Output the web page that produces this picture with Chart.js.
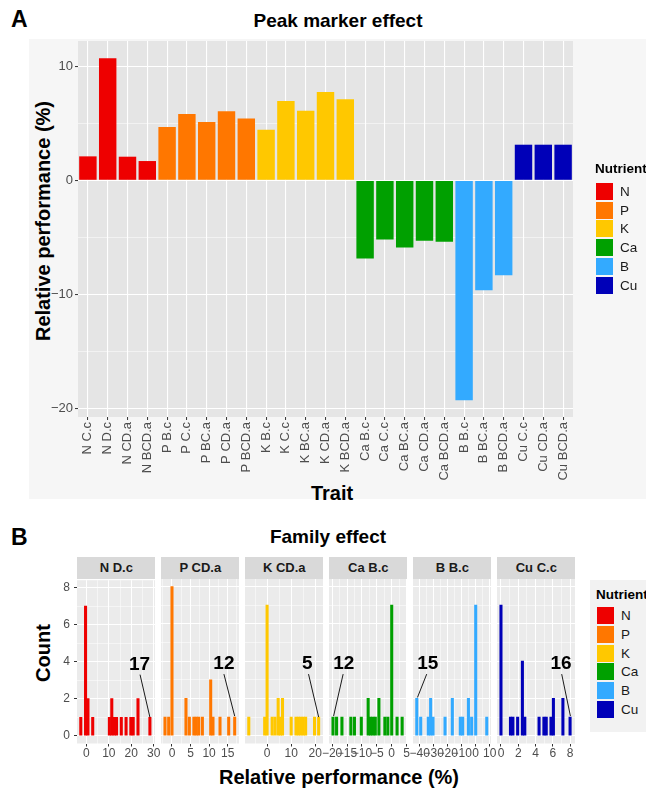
<!DOCTYPE html>
<html lang="en">
<head>
  <meta charset="UTF-8">
  <meta name="viewport" content="width=device-width, initial-scale=1.0">
  <title>Peak marker effect / Family effect</title>
  <script src="https://cdn.jsdelivr.net/npm/chart.js"></script>
  <style>
    body {
      margin: 0;
      width: 646px;
      height: 789px;
      position: relative;
      overflow: hidden;
      background-color: #fff;
      font-family: 'Liberation Sans', Arial, sans-serif;
      color: #000;
    }
    .abs { position: absolute; white-space: nowrap; }
    .tag { font-size: 23px; font-weight: bold; line-height: 23px; }
    .title { font-size: 19px; font-weight: bold; line-height: 19px; width: 400px; text-align: center; }
    .axis-title { font-size: 20px; font-weight: bold; line-height: 20px; width: 400px; height: 20px; text-align: center; }
    .rot { transform: rotate(-90deg); }
    .strip { background-color: #D9D9D9; color: #1A1A1A; font-size: 13px; font-weight: bold; text-align: center; }
    .legend-title { font-size: 13.5px; font-weight: bold; line-height: 14px; color: #000; }
    .key { width: 17px; height: 17px; }
    .key-label { font-size: 13.5px; line-height: 17px; color: #1A1A1A; }
    canvas { position: absolute; }
  </style>
</head>
<body>
  <!-- panel A background -->
  <div class="abs" style="left:29px;top:39px;width:617px;height:460px;background-color:#F6F6F6"></div>
  <!-- panel B legend background -->
  <div class="abs" style="left:590px;top:580px;width:56px;height:152px;background-color:#F2F2F2"></div>

  <div class="abs tag" style="left:11px;top:7.5px">A</div>
  <div class="abs title" style="left:138px;top:11px">Peak marker effect</div>
  <div class="abs axis-title rot" style="left:-157px;top:211px">Relative performance (%)</div>
  <div class="abs axis-title" style="left:132px;top:483px">Trait</div>

  <div class="abs tag" style="left:11px;top:525.5px">B</div>
  <div class="abs title" style="left:128px;top:527px">Family effect</div>
  <div class="abs axis-title rot" style="left:-157px;top:643px">Count</div>
  <div class="abs axis-title" style="left:139px;top:767px">Relative performance (%)</div>

  <canvas id="peakChart" width="646" height="505" style="left:0;top:0"></canvas>
  <div id="facetHolder"></div>
  <div id="legendA"></div>
  <div id="legendB"></div>

  <script>
    // Nutrients and fill colours
    const nutrients = ['N', 'P', 'K', 'Ca', 'B', 'Cu'];
    const nutrientColors = ['#EE0000', '#FF7700', '#FFC800', '#00A000', '#33AAFF', '#0000B8'];

    // Panel A: peak marker effect per trait (%)
    const traits = ['N C.c', 'N D.c', 'N CD.a', 'N BCD.a',
      'P B.c', 'P C.c', 'P BC.a', 'P CD.a', 'P BCD.a',
      'K B.c', 'K C.c', 'K BC.a', 'K CD.a', 'K BCD.a',
      'Ca B.c', 'Ca C.c', 'Ca BC.a', 'Ca CD.a', 'Ca BCD.a',
      'B B.c', 'B BC.a', 'B BCD.a',
      'Cu C.c', 'Cu CD.a', 'Cu BCD.a'];
    const peakEffect = [2.1, 10.7, 2.07, 1.69,
      4.67, 5.8, 5.1, 6.04, 5.42,
      4.43, 6.94, 6.1, 7.73, 7.09,
      -6.85, -5.19, -5.89, -5.28, -5.37,
      -19.25, -9.62, -8.31,
      3.12, 3.12, 3.12];
    const peakTicks = [-20, -15, -10, -5, 0, 5, 10];

    // Panel B: family effect histograms (bin centre, count)
    const facets = ['N D.c', 'P CD.a', 'K CD.a', 'Ca B.c', 'B B.c', 'Cu C.c'];
    const ndcBins = [-2.5, -0.38, 0.69, 2.81, 10.24, 11.31, 12.37, 13.43, 15.55, 17.68, 19.8, 20.86, 22.99, 28.3];
    const ndcCounts = [1, 7, 2, 1, 1, 2, 1, 1, 1, 1, 1, 1, 2, 1];
    const pcdaBins = [-1.88, -0.89, 0, 3.77, 4.68, 5.9, 6.54, 7.19, 8.19, 10.43, 11.05, 12.94, 15.28, 16.9];
    const pcdaCounts = [1, 1, 8, 2, 1, 1, 1, 1, 1, 3, 1, 1, 1, 1];
    const kcdaBins = [-7.6, -1.0, 0, 2.1, 3.3, 4.6, 5.5, 6.4, 10, 12, 13, 14, 15, 16, 19.7, 21.4];
    const kcdaCounts = [1, 1, 7, 1, 1, 2, 1, 2, 1, 1, 1, 1, 1, 1, 1, 1];
    const cabcBins = [-19.7, -18.5, -16.7, -13.7, -12.5, -10.2, -7.9, -7.1, -6.3, -5.5, -4.3, -2.3, -1.3, 0, 1.8, 3.5];
    const cabcCounts = [1, 1, 1, 1, 1, 1, 2, 1, 1, 1, 2, 1, 1, 7, 1, 1];
    const bbcBins = [-42.1, -39.3, -33.9, -32.2, -30.5, -21.9, -16.7, -11.0, -9.3, -5.2, -2.9, 0, 7.9];
    const bbcCounts = [2, 1, 1, 2, 1, 1, 2, 1, 1, 2, 1, 7, 1];
    const cuccBins = [0, 1.1, 1.38, 1.93, 2.48, 2.76, 4.41, 4.97, 5.24, 5.79, 6.07, 7.17, 8.0];
    const cuccCounts = [7, 1, 1, 1, 4, 1, 1, 1, 1, 1, 2, 2, 1];

    // axis breaks and limits per facet
    const facetMajor = [[0, 10, 20, 30], [0, 5, 10, 15], [0, 10, 20],
      [-20, -15, -10, -5, 0, 5], [-40, -30, -20, -10, 0, 10], [0, 2, 4, 6, 8]];
    const facetMinor = [[5, 15, 25], [-2.5, 2.5, 7.5, 12.5, 17.5], [-5, 5, 15],
      [-17.5, -12.5, -7.5, -2.5, 2.5], [-35, -25, -15, -5, 5], [1, 3, 5, 7]];
    const facetMin = [-4.19, -2.96, -9.17, -21.04, -44.8, -0.46];
    const facetMax = [30.57, 18.06, 23.21, 5.13, 10.93, 8.57];
    const countTicks = [0, 1, 2, 3, 4, 5, 6, 7, 8];

    // labelled family counts with pointer lines
    const calloutText = ['17', '12', '5', '12', '15', '16'];
    const calloutX = [23.7, 14.0, 16.7, -16.1, -34.3, 6.95];
    const calloutY = [3.85, 3.87, 3.85, 3.85, 3.85, 3.85];
    const lineFromX = [23.9, 14.0, 17.2, -16.3, -35.0, 7.03];
    const lineFromY = [3.3, 3.3, 3.3, 3.3, 3.3, 3.3];
    const lineToX = [28.3, 16.9, 21.4, -19.5, -41.6, 8.04];
    const lineToY = [1.0, 1.05, 1.0, 1.05, 2.05, 1.05];

    const famBins = [ndcBins, pcdaBins, kcdaBins, cabcBins, bbcBins, cuccBins];
    const famCounts = [ndcCounts, pcdaCounts, kcdaCounts, cabcCounts, bbcCounts, cuccCounts];

    Chart.defaults.font.family = "'Liberation Sans', Arial, sans-serif";

    const minus = v => (v < 0 ? '\u2212' + Math.abs(v) : String(v));
    const colorOf = name => nutrientColors[nutrients.indexOf(name.split(' ')[0])];

    // fills the plotting panel grey before scales and bars are drawn
    function plotBg(color) {
      return {
        id: 'plotBg',
        beforeDraw(chart) {
          const { ctx, chartArea: a } = chart;
          ctx.save();
          ctx.fillStyle = color;
          ctx.fillRect(a.left, a.top, a.right - a.left, a.bottom - a.top);
          ctx.restore();
        }
      };
    }

    // ---- Panel A ----
    new Chart(document.getElementById('peakChart'), {
      type: 'bar',
      data: {
        labels: traits,
        datasets: [{
          data: peakEffect,
          backgroundColor: traits.map(colorOf),
          borderWidth: 0,
          barPercentage: 0.88,
          categoryPercentage: 1
        }]
      },
      options: {
        responsive: false,
        animation: false,
        layout: { padding: { left: 30, right: 73, top: 41, bottom: 0 } },
        plugins: { legend: { display: false }, tooltip: { enabled: false } },
        scales: {
          x: {
            offset: true,
            afterFit: s => { s.height = 88; },
            border: { display: false },
            grid: { offset: false, color: '#FFFFFF', lineWidth: 1.1, tickColor: '#333333', tickWidth: 1, tickLength: 3 },
            ticks: { autoSkip: false, minRotation: 90, maxRotation: 90, padding: 2, color: '#4D4D4D', font: { size: 13 } }
          },
          y: {
            min: -20.72,
            max: 12.2,
            afterBuildTicks: s => { s.ticks = peakTicks.map(v => ({ value: v })); },
            afterFit: s => { s.width = 48; },
            border: { display: false },
            grid: {
              color: '#FFFFFF',
              lineWidth: c => (c.tick && c.tick.value % 10 === 0 ? 1.1 : 0.5),
              tickColor: c => (c.tick && c.tick.value % 10 === 0 ? '#333333' : 'rgba(0,0,0,0)'),
              tickWidth: 1,
              tickLength: 3
            },
            ticks: {
              padding: 2,
              color: '#4D4D4D',
              font: { size: 13 },
              callback: v => (v % 10 === 0 ? minus(v) : '')
            }
          }
        }
      },
      plugins: [plotBg('#E5E5E5')]
    });

    // ---- Panel B facets ----
    const holder = document.getElementById('facetHolder');
    const facetLeft = 77.3, facetStep = 84, facetWidth = 78;
    const stripTop = 557.3, panelTop = 579, panelBottom = 743.5;

    function callout(i) {
      return {
        id: 'callout',
        afterDatasetsDraw(chart) {
          const { ctx, scales: { x, y } } = chart;
          ctx.save();
          ctx.strokeStyle = '#1A1A1A';
          ctx.lineWidth = 1;
          ctx.beginPath();
          ctx.moveTo(x.getPixelForValue(lineFromX[i]), y.getPixelForValue(lineFromY[i]));
          ctx.lineTo(x.getPixelForValue(lineToX[i]), y.getPixelForValue(lineToY[i]));
          ctx.stroke();
          ctx.fillStyle = '#000';
          ctx.font = "bold 19px 'Liberation Sans', Arial, sans-serif";
          ctx.textAlign = 'center';
          ctx.textBaseline = 'middle';
          ctx.fillText(calloutText[i], x.getPixelForValue(calloutX[i]), y.getPixelForValue(calloutY[i]));
          ctx.restore();
        }
      };
    }

    facets.forEach((name, i) => {
      const left = facetLeft + i * facetStep;

      const strip = document.createElement('div');
      strip.className = 'abs strip';
      strip.style.left = left + 'px';
      strip.style.top = stripTop + 'px';
      strip.style.width = facetWidth + 'px';
      strip.style.height = (panelTop - stripTop) + 'px';
      strip.style.lineHeight = (panelTop - stripTop) + 'px';
      strip.textContent = name;
      holder.appendChild(strip);

      const canvas = document.createElement('canvas');
      canvas.width = 140;
      canvas.height = 200;
      canvas.style.left = (left - 47) + 'px';
      canvas.style.top = (panelTop - 10) + 'px';
      holder.appendChild(canvas);

      const major = facetMajor[i];
      const allTicks = major.concat(facetMinor[i]).sort((a, b) => a - b);
      const isMajor = c => c.tick && major.includes(c.tick.value);
      const color = colorOf(name);

      new Chart(canvas, {
        type: 'bar',
        data: {
          datasets: [{
            data: famBins[i].map((b, j) => ({ x: b, y: famCounts[i][j] })),
            backgroundColor: color,
            borderWidth: 0,
            barThickness: 2.4
          }]
        },
        options: {
          responsive: false,
          animation: false,
          layout: { padding: { left: 0, right: 15, top: 10, bottom: 0 } },
          plugins: { legend: { display: false }, tooltip: { enabled: false } },
          scales: {
            x: {
              type: 'linear',
              min: facetMin[i],
              max: facetMax[i],
              offset: false,
              afterBuildTicks: s => { s.ticks = allTicks.map(v => ({ value: v })); },
              afterFit: s => { s.height = 200 - 10 - (panelBottom - panelTop); },
              border: { display: false },
              grid: {
                offset: false,
                color: '#FFFFFF',
                lineWidth: c => (isMajor(c) ? 1.0 : 0.5),
                tickColor: c => (isMajor(c) ? '#333333' : 'rgba(0,0,0,0)'),
                tickWidth: 1,
                tickLength: 3
              },
              ticks: {
                autoSkip: false,
                maxRotation: 0,
                padding: 0,
                color: '#4D4D4D',
                font: { size: 12 },
                callback: v => (major.includes(v) ? minus(v) : '')
              }
            },
            y: {
              min: -0.42,
              max: 8.4,
              afterBuildTicks: s => { s.ticks = countTicks.map(v => ({ value: v })); },
              afterFit: s => { s.width = 47; },
              border: { display: false },
              grid: {
                color: '#FFFFFF',
                lineWidth: c => (c.tick && c.tick.value % 2 === 0 ? 1.0 : 0.5),
                tickColor: c => (i === 0 && c.tick && c.tick.value % 2 === 0 ? '#333333' : 'rgba(0,0,0,0)'),
                tickWidth: 1,
                tickLength: 3
              },
              ticks: {
                display: i === 0,
                padding: 4,
                color: '#4D4D4D',
                font: { size: 12 },
                callback: v => (v % 2 === 0 ? String(v) : '')
              }
            }
          }
        },
        plugins: [plotBg('#EBEBEB'), callout(i)]
      });
    });

    // ---- legends ----
    function buildLegend(holderId, x, titleTop, firstKeyCenter, gap, labelX) {
      const el = document.getElementById(holderId);
      const t = document.createElement('div');
      t.className = 'abs legend-title';
      t.style.left = x + 'px';
      t.style.top = titleTop + 'px';
      t.textContent = 'Nutrient';
      el.appendChild(t);
      nutrients.forEach((n, k) => {
        const top = firstKeyCenter + k * gap - 8.5;
        const key = document.createElement('div');
        key.className = 'abs key';
        key.style.left = (x + 1) + 'px';
        key.style.top = top + 'px';
        key.style.backgroundColor = nutrientColors[k];
        el.appendChild(key);
        const lab = document.createElement('div');
        lab.className = 'abs key-label';
        lab.style.left = labelX + 'px';
        lab.style.top = top + 'px';
        lab.textContent = n;
        el.appendChild(lab);
      });
    }
    buildLegend('legendA', 595, 161.5, 191.3, 18.74, 620);
    buildLegend('legendB', 596, 587.5, 615.5, 18.76, 621);
  </script>
</body>
</html>
